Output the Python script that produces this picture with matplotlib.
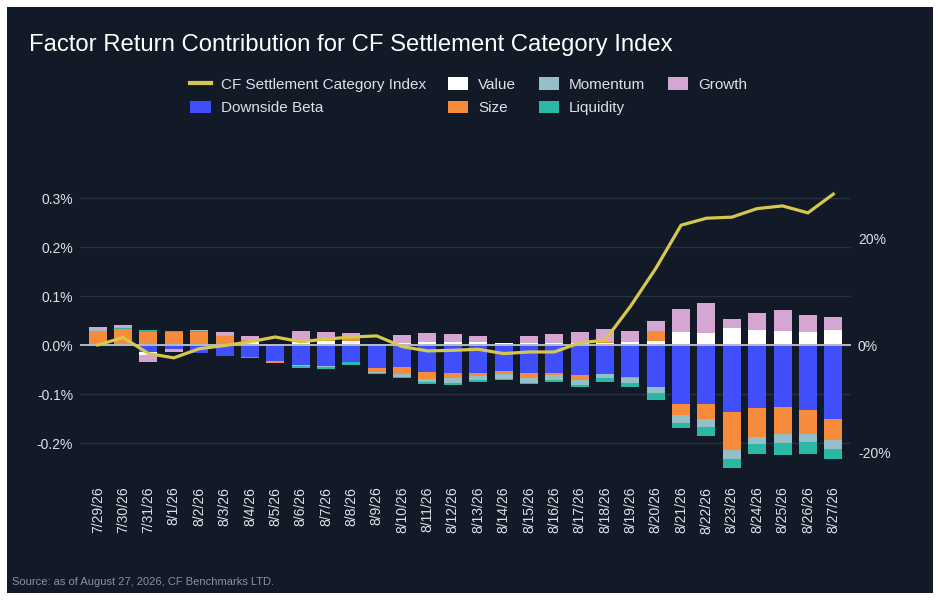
import matplotlib
matplotlib.use("Agg")
import matplotlib.pyplot as plt
import numpy as np
from matplotlib.patches import Rectangle, Patch
from matplotlib.lines import Line2D

plt.rcParams["font.family"] = ["Liberation Sans", "DejaVu Sans"]

dates = ["7/29/26", "7/30/26", "7/31/26", "8/1/26", "8/2/26", "8/3/26", "8/4/26",
         "8/5/26", "8/6/26", "8/7/26", "8/8/26", "8/9/26", "8/10/26", "8/11/26",
         "8/12/26", "8/13/26", "8/14/26", "8/15/26", "8/16/26", "8/17/26", "8/18/26",
         "8/19/26", "8/20/26", "8/21/26", "8/22/26", "8/23/26", "8/24/26", "8/25/26",
         "8/26/26", "8/27/26"]

# factor contributions, in %
downside_beta = [0.0, -0.003, -0.014, -0.008, -0.016, -0.022, -0.024, -0.033, -0.041, -0.043,
                 -0.035, -0.047, -0.045, -0.055, -0.057, -0.057, -0.053, -0.057, -0.057, -0.061,
                 -0.059, -0.065, -0.086, -0.120, -0.120, -0.137, -0.129, -0.127, -0.133, -0.151]
value = [0.002, 0.002, -0.007, 0.0, 0.002, 0.001, 0.006, 0.0, 0.006, 0.008,
         0.008, 0.0, 0.004, 0.006, 0.006, 0.006, 0.004, 0.004, 0.004, 0.004,
         0.004, 0.006, 0.008, 0.027, 0.024, 0.035, 0.031, 0.029, 0.027, 0.031]
size = [0.027, 0.031, 0.027, 0.026, 0.025, 0.017, 0.004, -0.004, 0.004, 0.005,
        0.010, -0.008, -0.015, -0.014, -0.010, -0.006, -0.006, -0.010, -0.004, -0.010,
        0.003, -0.002, 0.020, -0.022, -0.031, -0.078, -0.059, -0.055, -0.049, -0.043]
momentum = [0.001, 0.002, 0.0, 0.001, 0.001, 0.002, -0.001, 0.002, -0.002, -0.001,
            0.0, -0.002, -0.005, -0.006, -0.010, -0.008, -0.010, -0.010, -0.010, -0.010,
            -0.008, -0.010, -0.012, -0.018, -0.016, -0.018, -0.014, -0.018, -0.016, -0.018]
liquidity = [0.0, 0.002, 0.004, 0.002, 0.002, 0.0, -0.002, 0.0, -0.004, -0.005,
             -0.006, -0.002, -0.003, -0.004, -0.004, -0.004, -0.002, -0.002, -0.004, -0.004,
             -0.008, -0.008, -0.014, -0.010, -0.018, -0.018, -0.020, -0.024, -0.024, -0.020]
growth = [0.006, 0.004, -0.014, -0.006, 0.0, 0.006, 0.009, 0.0, 0.018, 0.014,
          0.006, 0.003, 0.016, 0.018, 0.016, 0.012, 0.0, 0.014, 0.018, 0.022,
          0.026, 0.022, 0.022, 0.047, 0.061, 0.018, 0.035, 0.043, 0.035, 0.027]

# cumulative index return, in %
index_return = [0.0, 1.4, -1.6, -2.4, -0.7, -0.1, 0.6, 1.5, 0.6, 1.1,
                1.5, 1.7, -0.3, -1.1, -1.0, -0.8, -1.6, -1.3, -1.3, 0.4,
                0.9, 7.2, 14.3, 22.4, 23.7, 23.9, 25.5, 26.0, 24.7, 28.2]

BG = "#121a28"
GRID = "#263142"
TXT = "#dde1e7"

factors = {
    "Downside Beta": (downside_beta, "#3f4ffc"),
    "Value": (value, "#ffffff"),
    "Size": (size, "#f58b3b"),
    "Momentum": (momentum, "#94bfc6"),
    "Liquidity": (liquidity, "#2bb8a5"),
    "Growth": (growth, "#d5a6d1"),
}
pos_order = ["Downside Beta", "Value", "Size", "Liquidity", "Momentum", "Growth"]
neg_order = ["Downside Beta", "Value", "Size", "Momentum", "Liquidity", "Growth"]

fig = plt.figure(figsize=(9.4, 6), dpi=100)
fig.patch.set_facecolor("white")
fig.patches.append(Rectangle((7 / 940, 7 / 600), 926 / 940, 586 / 600,
                             transform=fig.transFigure, facecolor=BG, edgecolor="none", zorder=-5))

ax = fig.add_axes([80 / 940, 130 / 600, 771 / 940, 320 / 600])
ax.set_facecolor("none")
x = np.arange(len(dates))
w = 0.71

pos_base = np.zeros(len(dates))
for name in pos_order:
    vals, col = factors[name]
    v = np.clip(np.array(vals), 0, None)
    ax.bar(x, v, w, bottom=pos_base, color=col, linewidth=0, zorder=3)
    pos_base += v
neg_base = np.zeros(len(dates))
for name in neg_order:
    vals, col = factors[name]
    v = np.clip(np.array(vals), None, 0)
    ax.bar(x, v, w, bottom=neg_base, color=col, linewidth=0, zorder=3)
    neg_base += v

ylo, yhi = -0.2551, 0.398
ax.set_ylim(ylo, yhi)
ax.set_xlim(-0.7, 29.7)
ax.set_yticks([-0.2, -0.1, 0.0, 0.1, 0.2, 0.3])
ax.set_yticklabels(["-0.2%", "-0.1%", "0.0%", "0.1%", "0.2%", "0.3%"])
ax.grid(axis="y", color=GRID, linewidth=1, zorder=0)
ax.axhline(0, color="#b3bac4", linewidth=1.4, zorder=4)
ax.set_xticks(x)
ax.set_xticklabels(dates, rotation=90)
ax.tick_params(axis="y", length=0, pad=5, labelsize=10, labelcolor=TXT)
ax.tick_params(axis="x", length=0, pad=12, labelsize=10, labelcolor=TXT)
for s in ax.spines.values():
    s.set_visible(False)

ax2 = ax.twinx()
ratio = 20 / (107 / 490)
ax2.set_ylim(ylo * ratio, yhi * ratio)
ax2.plot(x, index_return, color="#d6c84f", linewidth=2.3, zorder=5)
ax2.set_yticks([-20, 0, 20])
ax2.set_yticklabels(["-20%", "0%", "20%"])
ax2.tick_params(axis="y", length=0, pad=5, labelsize=10, labelcolor=TXT)
for s in ax2.spines.values():
    s.set_visible(False)

handles = [Line2D([], [], color="#d6c84f", linewidth=3)]
labels = ["CF Settlement Category Index"]
for name in ["Downside Beta", "Value", "Size", "Momentum", "Liquidity", "Growth"]:
    handles.append(Patch(facecolor=factors[name][1], edgecolor="none"))
    labels.append(name)
fig.legend(handles, labels, ncol=4, loc="upper left", bbox_to_anchor=(190 / 940, 1 - 77 / 600),
           frameon=False, fontsize=11, labelcolor=TXT, handlelength=1.35, handleheight=0.9,
           handletextpad=0.65, columnspacing=1.45, labelspacing=0.6, borderpad=0, borderaxespad=0)

fig.text(29 / 940, 1 - 45 / 600, "Factor Return Contribution for CF Settlement Category Index",
         color="white", fontsize=17.2, va="center", ha="left")
fig.text(12 / 940, 1 - 582 / 600, "Source: as of August 27, 2026, CF Benchmarks LTD.",
         color="#8b919b", fontsize=8, va="center", ha="left")

fig.savefig("out.png", dpi=100, facecolor=fig.get_facecolor())
